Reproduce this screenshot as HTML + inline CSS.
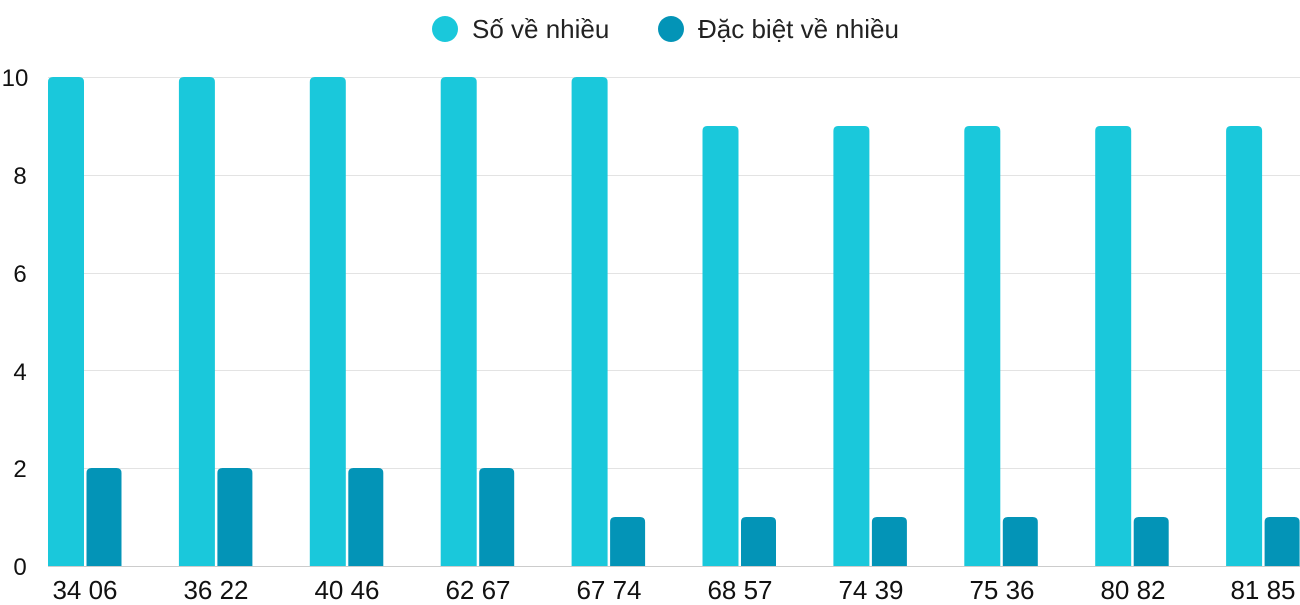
<!DOCTYPE html>
<html><head><meta charset="utf-8"><style>body{margin:0;background:#fff}</style></head><body>
<svg width="1300" height="600" xmlns="http://www.w3.org/2000/svg" font-family="Liberation Sans, sans-serif">
<g stroke="#e3e3e3" stroke-width="1">
<line x1="48" x2="1300" y1="77.5" y2="77.5"/><line x1="48" x2="1300" y1="175.5" y2="175.5"/><line x1="48" x2="1300" y1="273.5" y2="273.5"/><line x1="48" x2="1300" y1="370.5" y2="370.5"/><line x1="48" x2="1300" y1="468.5" y2="468.5"/>
</g>
<line x1="48" x2="1300" y1="566.5" y2="566.5" stroke="#ccc"/>
<g font-size="24" fill="#111" text-anchor="middle">
<text x="15" y="86">10</text><text x="20" y="184">8</text><text x="20" y="282">6</text><text x="20" y="380">4</text><text x="20" y="477">2</text><text x="20" y="575">0</text>
</g>
<g fill="#1ac8db">
<path d="M48 566V82q0-5 5-5h26q5 0 5 5V566z"/>
<path d="M178.9 566V82q0-5 5-5h26q5 0 5 5V566z"/>
<path d="M309.8 566V82q0-5 5-5h26q5 0 5 5V566z"/>
<path d="M440.7 566V82q0-5 5-5h26q5 0 5 5V566z"/>
<path d="M571.6 566V82q0-5 5-5h26q5 0 5 5V566z"/>
<path d="M702.5 566V131q0-5 5-5h26q5 0 5 5V566z"/>
<path d="M833.4 566V131q0-5 5-5h26q5 0 5 5V566z"/>
<path d="M964.3 566V131q0-5 5-5h26q5 0 5 5V566z"/>
<path d="M1095.2 566V131q0-5 5-5h26q5 0 5 5V566z"/>
<path d="M1226.1 566V131q0-5 5-5h26q5 0 5 5V566z"/>
</g>
<g fill="#0394b7">
<path d="M86.5 566V473q0-5 5-5h25q5 0 5 5V566z"/>
<path d="M217.4 566V473q0-5 5-5h25q5 0 5 5V566z"/>
<path d="M348.3 566V473q0-5 5-5h25q5 0 5 5V566z"/>
<path d="M479.2 566V473q0-5 5-5h25q5 0 5 5V566z"/>
<path d="M610.1 566V522q0-5 5-5h25q5 0 5 5V566z"/>
<path d="M741 566V522q0-5 5-5h25q5 0 5 5V566z"/>
<path d="M871.9 566V522q0-5 5-5h25q5 0 5 5V566z"/>
<path d="M1002.8 566V522q0-5 5-5h25q5 0 5 5V566z"/>
<path d="M1133.7 566V522q0-5 5-5h25q5 0 5 5V566z"/>
<path d="M1264.6 566V522q0-5 5-5h25q5 0 5 5V566z"/>
</g>
<g font-size="26" fill="#111" text-anchor="middle">
<text x="85" y="599">34 06</text><text x="216" y="599">36 22</text><text x="347" y="599">40 46</text><text x="478" y="599">62 67</text><text x="609" y="599">67 74</text><text x="740" y="599">68 57</text><text x="871" y="599">74 39</text><text x="1002" y="599">75 36</text><text x="1133" y="599">80 82</text><text x="1263" y="599">81 85</text>
</g>
<circle cx="445" cy="29" r="13" fill="#1ac8db"/><text x="472" y="38" font-size="26" fill="#222">Số về nhiều</text>
<circle cx="671" cy="29" r="13" fill="#0394b7"/><text x="698" y="38" font-size="26" fill="#222">Đặc biệt về nhiều</text>
</svg>
</body></html>
